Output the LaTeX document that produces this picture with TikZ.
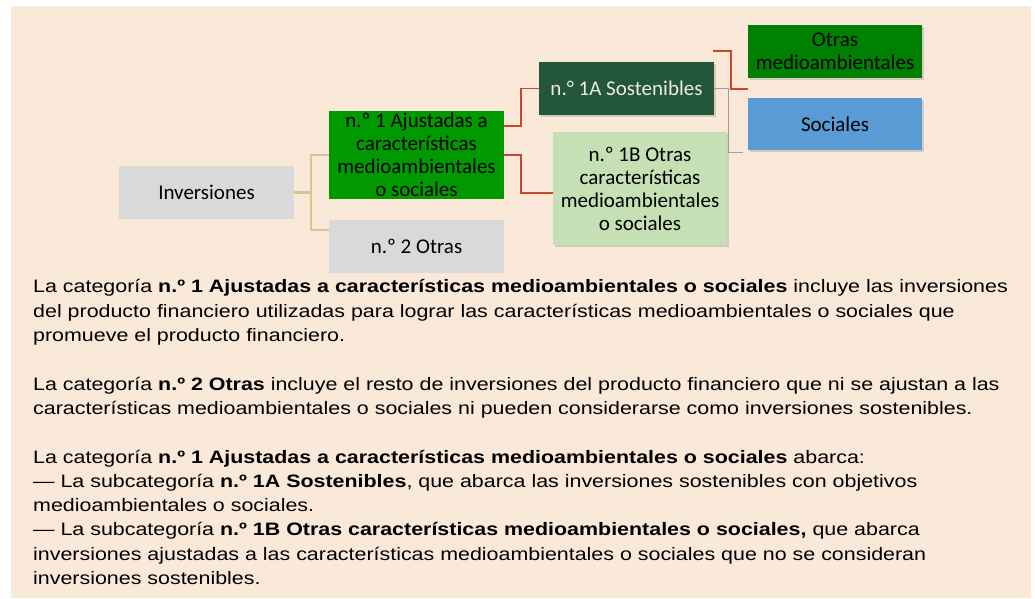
\documentclass[tikz,border=0pt]{standalone}
\usepackage{fontspec}
\setmainfont{Liberation Sans}
\newfontfamily\bodyfont[FakeStretch=1.19]{Liberation Sans}
\newfontfamily\boxfont{Carlito}
\usetikzlibrary{shadows}
\definecolor{bgpeach}{HTML}{FAE8D8}
\definecolor{boxgray}{HTML}{D9D9D9}
\definecolor{greenA}{HTML}{009900}
\definecolor{darkgreen}{HTML}{245639}
\definecolor{lightgreen}{HTML}{C5E0B4}
\definecolor{greenB}{HTML}{008000}
\definecolor{blueS}{HTML}{5B9BD5}
\definecolor{tanline}{HTML}{D4C68C}
\definecolor{redline}{HTML}{C9482C}
\definecolor{greyline}{HTML}{A0A0A0}
\tikzset{
  cbox/.style={inner sep=0pt, align=center, font=\boxfont\fontsize{21}{23}\selectfont, text=black},
  shbox/.style={cbox, drop shadow={opacity=0.3, shadow xshift=2pt, shadow yshift=-2pt}},
  tanconn/.style={draw=tanline, line width=1.5pt},
  redconn/.style={draw=redline, line width=1.5pt},
  greyconn/.style={draw=greyline, line width=1pt},
}
\begin{document}
\begin{tikzpicture}[x=1pt,y=-1pt]
\useasboundingbox (0,0) rectangle (1035,599);
\fill[bgpeach] (11,6) rectangle (1031,598);

\node[cbox, fill=boxgray, minimum width=175pt, minimum height=53pt] (inv) at (206.5,192.5) {Inversiones};
\node[cbox, fill=greenA, minimum width=175pt, minimum height=88pt] (n1) at (416.5,155) {n.º 1 Ajustadas a\\características\\medioambientales\\o sociales};
\node[cbox, fill=boxgray, minimum width=175pt, minimum height=53pt] (n2) at (416.5,246.5) {n.º 2 Otras};
\node[shbox, fill=darkgreen, text=white!92!black, minimum width=175pt, minimum height=53pt] (s1a) at (626.5,88.5) {n.° 1A Sostenibles};
\node[shbox, fill=lightgreen, minimum width=174pt, minimum height=113pt] (s1b) at (640,188.5) {n.º 1B Otras\\características\\medioambientales\\o sociales};
\node[shbox, fill=greenB, minimum width=174pt, minimum height=53pt] (otr) at (835,51.5) {Otras\\medioambientales};
\node[shbox, fill=blueS, minimum width=174pt, minimum height=52pt] (soc) at (835,124) {Sociales};

% tan connectors
\draw[tanconn, line width=2.5pt] (inv.east) -- (311,192.5);
\draw[tanconn] (inv.east -| 311,0) |- (n1.west |- 0,155);
\draw[tanconn] (inv.east -| 311,0) |- (n2.west |- 0,230);

% red connectors
\draw[redconn] (n1.east |- 0,126) -- (521,126) |- (s1a.west);
\draw[redconn] (n1.east |- 0,155) -- (521,155) |- (s1b.west |- 0,193);
\coordinate (rA) at (713,51);
\coordinate (rB) at (748,89);
\draw[redconn] (rA) -- (731,51) |- (rB);

% grey connector
\coordinate (gB) at (743,152);
\draw[greyconn] (s1a.east) -- (728,88.5) |- (gB);

\node[anchor=north west, inner sep=0pt, align=left, font=\bodyfont\fontsize{18}{24.3}\selectfont] (txt) at (33,279.5) {%
La categoría \textbf{n.º 1 Ajustadas a características medioambientales o sociales} incluye las inversiones\\
del producto financiero utilizadas para lograr las características medioambientales o sociales que\\
promueve el producto financiero.\\[24.3pt]
La categoría \textbf{n.º 2 Otras} incluye el resto de inversiones del producto financiero que ni se ajustan a las\\
características medioambientales o sociales ni pueden considerarse como inversiones sostenibles.\\[24.3pt]
La categoría \textbf{n.º 1 Ajustadas a características medioambientales o sociales} abarca:\\
— La subcategoría \textbf{n.º 1A Sostenibles}, que abarca las inversiones sostenibles con objetivos\\
medioambientales o sociales.\\
— La subcategoría \textbf{n.º 1B Otras características medioambientales o sociales,} que abarca\\
inversiones ajustadas a las características medioambientales o sociales que no se consideran\\
inversiones sostenibles.};
\end{tikzpicture}
\end{document}
